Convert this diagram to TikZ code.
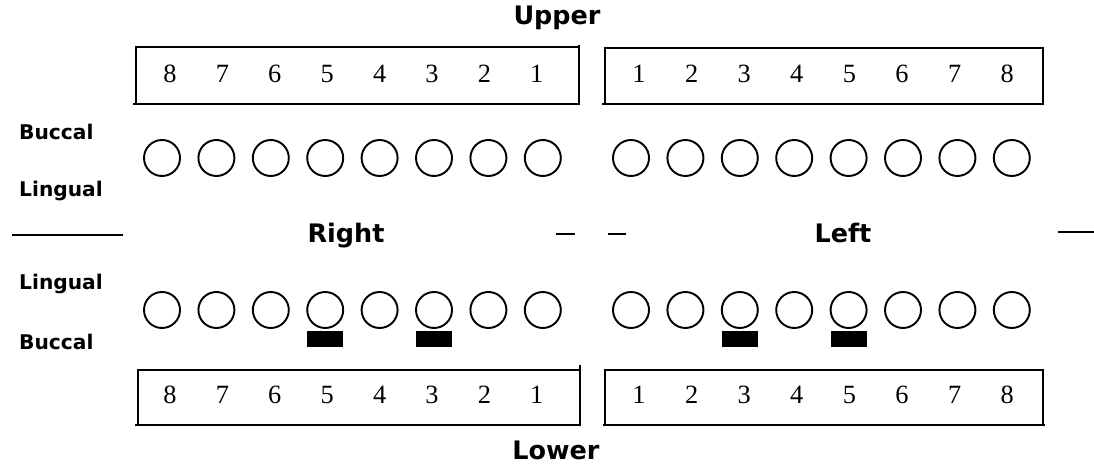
\documentclass[tikz,border=0pt]{standalone}
\usepackage{fontspec}
\setmainfont{Liberation Serif}
\newfontfamily\headfont{DejaVu Sans}

\begin{document}
\begin{tikzpicture}[x=0.02cm,y=-0.02cm,
    tooth/.style={draw,circle,line width=1.1pt,minimum size=0.72cm,inner sep=0pt},
    pad/.style={fill=black,minimum width=0.72cm,minimum height=0.32cm,inner sep=0pt},
    num/.style={font=\fontsize{15}{18}\selectfont},
    side/.style={font=\headfont\bfseries\fontsize{11.5}{13}\selectfont,anchor=base west},
    head/.style={font=\headfont\bfseries\fontsize{14.5}{16}\selectfont,anchor=base}]
  \useasboundingbox (0,0) rectangle (1094,465);

  % tooth number boxes
  \draw[line width=0.7pt] (136,47) rectangle (579,104);
  \draw[line width=0.7pt] (605,48) rectangle (1043,104);
  \draw[line width=0.7pt] (138,370) rectangle (580,425);
  \draw[line width=0.7pt] (605,370) rectangle (1043,425);
  \draw[line width=1.2pt] (133,104)--(580,104) (579,45)--(579,104);
  \draw[line width=1.2pt] (602,104)--(1043,104) (605,48)--(605,104);
  \draw[line width=1.2pt] (135,425)--(581,425) (580,365)--(580,425);
  \draw[line width=1.2pt] (603,425)--(1045,425) (605,370)--(605,425);

  \foreach \n [count=\k from 0] in {8,7,6,5,4,3,2,1} {
    \node[num] (un\n) at (170+52.4*\k,74) {\n};
    \node[num] (ln\n) at (170+52.4*\k,395) {\n};
  }
  \foreach \n [count=\k from 0] in {1,2,3,4,5,6,7,8} {
    \node[num] (um\n) at (639+52.6*\k,74) {\n};
    \node[num] (lm\n) at (639+52.6*\k,395) {\n};
  }

  % teeth
  \foreach \k in {1,...,8} {
    \node[tooth] (ur\k) at (162+54.4*\k-54.4,158) {};
    \node[tooth] (ul\k) at (631+54.4*\k-54.4,158) {};
    \node[tooth] (lr\k) at (162+54.4*\k-54.4,310) {};
    \node[tooth] (ll\k) at (631+54.4*\k-54.4,310) {};
  }
  \node[pad,anchor=north] (p1) at ([yshift=-0.04cm]lr4.south) {};
  \node[pad,anchor=north] (p2) at ([yshift=-0.04cm]lr6.south) {};
  \node[pad,anchor=north] (p3) at ([yshift=-0.04cm]ll3.south) {};
  \node[pad,anchor=north] (p4) at ([yshift=-0.04cm]ll5.south) {};

  % labels
  \node[head] (upper) at (557,25) {Upper};
  \node[head] (lower) at (556,459) {Lower};
  \node[head] (right) at (346,243) {Right};
  \node[head] (left) at (843,243) {Left};
  \node[side] (ub) at (13,140) {Buccal};
  \node[side] (ul) at (13,197) {Lingual};
  \node[side] (ll) at (13,290) {Lingual};
  \node[side] (lb) at (13,350) {Buccal};

  % midline
  \draw[line width=1pt] (12,235)--(123,235);
  \draw[line width=1.2pt] (556,234)--(575,234);
  \draw[line width=1.2pt] (608,234)--(626,234);
  \draw[line width=1pt] (1058,232)--(1094,232);
\end{tikzpicture}
\end{document}
